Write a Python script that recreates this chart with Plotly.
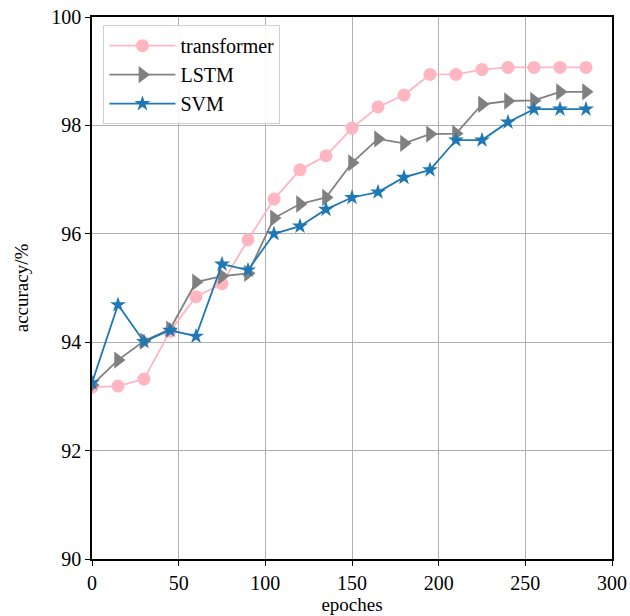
import plotly.graph_objects as go

epochs = [0, 15, 30, 45, 60, 75, 90, 105, 120, 135, 150, 165, 180, 195, 210, 225, 240, 255, 270, 285]
transformer = [93.17, 93.19, 93.32, 94.2, 94.84, 95.08, 95.89, 96.64, 97.18, 97.44, 97.95, 98.34, 98.56, 98.94, 98.94, 99.03, 99.07, 99.07, 99.07, 99.07]
lstm = [93.21, 93.67, 94.02, 94.24, 95.11, 95.22, 95.27, 96.29, 96.55, 96.67, 97.31, 97.75, 97.67, 97.84, 97.85, 98.39, 98.45, 98.46, 98.62, 98.62]
svm = [93.25, 94.69, 94.01, 94.22, 94.11, 95.44, 95.33, 96.0, 96.14, 96.45, 96.67, 96.77, 97.04, 97.18, 97.73, 97.73, 98.06, 98.3, 98.3, 98.3]

font_family = "Liberation Serif, Times New Roman, serif"

fig = go.Figure()
fig.add_trace(go.Scatter(x=epochs, y=transformer, name="transformer", mode="lines+markers",
                         line=dict(color="#FFB6C1", width=1.8),
                         marker=dict(symbol="circle", size=13, color="#FFB6C1")))
fig.add_trace(go.Scatter(x=epochs, y=lstm, name="LSTM", mode="lines+markers",
                         line=dict(color="#808080", width=1.8),
                         marker=dict(symbol="triangle-right", size=15, color="#808080")))
fig.add_trace(go.Scatter(x=epochs, y=svm, name="SVM", mode="lines+markers",
                         line=dict(color="#1f77b4", width=1.8),
                         marker=dict(symbol="star", size=12, color="#1f77b4")))

axis_common = dict(showline=True, linecolor="black", linewidth=1.5, mirror=True,
                   showgrid=True, gridcolor="#b0b0b0", gridwidth=1,
                   ticks="outside", ticklen=5, tickcolor="black", zeroline=False,
                   ticklabeloverflow="allow", automargin=False,
                   tickfont=dict(family=font_family, size=20, color="black"))

fig.update_layout(
    width=630, height=616,
    margin=dict(l=92, r=18, t=17, b=57),
    plot_bgcolor="white", paper_bgcolor="white",
    font=dict(family=font_family, color="black"),
    xaxis=dict(range=[0, 300], dtick=50, title=dict(text="epoches", font=dict(size=19), standoff=2), **axis_common),
    yaxis=dict(range=[90, 100], dtick=2, title=dict(text="accuracy/%", font=dict(size=19), standoff=18), **axis_common),
    legend=dict(x=0.022, y=0.985, xanchor="left", yanchor="top",
                bgcolor="rgba(255,255,255,0.9)", bordercolor="#d0d0d0", borderwidth=1,
                font=dict(family=font_family, size=20), itemwidth=66),
    showlegend=True,
)

fig.write_html("out.html", config={"displayModeBar": False},
               post_script="document.body.style.margin='0px';")
